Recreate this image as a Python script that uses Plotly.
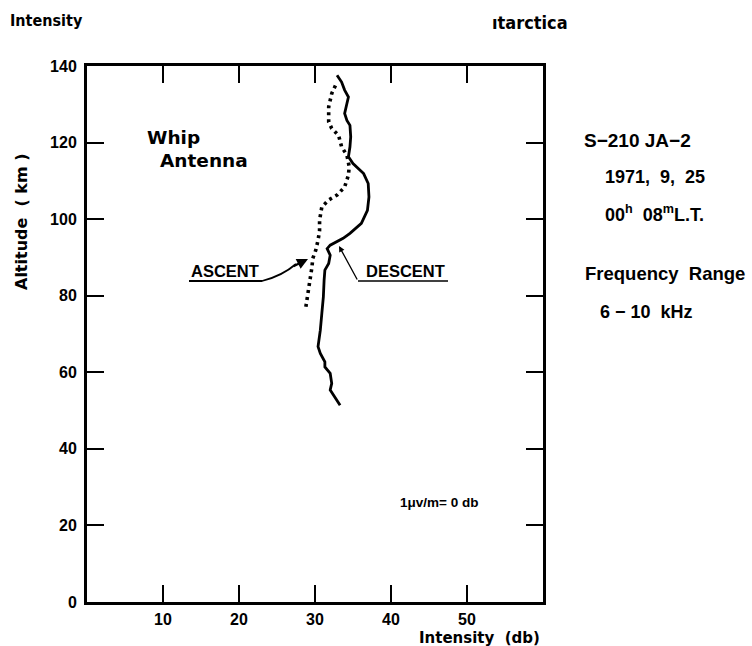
import plotly.graph_objects as go

# ---- data ----
descent_db = [32.9, 33.5, 33.9, 34.4, 34.2, 33.9, 34.2, 34.6, 34.7, 34.6, 34.4, 35.0, 36.4, 37.0,
              37.1, 36.9, 36.1, 34.6, 33.7, 32.0, 31.6, 32.0, 31.8, 31.3, 31.2, 31.1, 30.9, 30.7,
              30.4, 30.7, 31.3, 31.3, 32.0, 32.2, 32.0, 32.9, 33.3]
descent_km = [137.6, 135.8, 133.7, 131.9, 130.2, 127.6, 125.8, 124.5, 121.5, 118.9, 116.3, 114.5,
              111.9, 109.3, 105.8, 102.3, 98.9, 96.3, 95.0, 93.2, 92.3, 90.6, 88.4, 86.7, 84.1,
              79.7, 75.4, 71.0, 66.7, 64.9, 62.7, 61.4, 59.7, 57.1, 55.4, 52.7, 51.4]

ascent_db = [28.8, 29.0, 29.3, 29.4, 29.6, 29.7, 30.1, 30.4, 30.6, 30.6, 30.9, 31.8, 32.9, 33.9,
             34.4, 34.5, 34.2, 33.5, 33.1, 32.2, 31.8, 31.8, 31.8, 32.2, 32.8]
ascent_km = [77.1, 79.7, 82.3, 84.9, 87.5, 89.7, 91.9, 94.5, 97.0, 99.7, 103.2, 105.0, 106.3, 108.4,
             111.5, 113.7, 116.7, 118.9, 121.9, 123.7, 125.4, 127.2, 129.3, 132.8, 135.4]

x_ticks = [10, 20, 30, 40, 50]
x_tick_labels = ["10", "20", "30", "40", "50"]
y_ticks = [0, 20, 40, 60, 80, 100, 120, 140]
y_tick_labels = ["0", "20", "40", "60", "80", "100", "120", "140"]

W, H = 752, 646
ML, MR, MT, MB = 87, 209, 66, 44
PW, PH = W - ML - MR, H - MT - MB


def P(px, py):
    """pixel -> paper coords"""
    return (px - ML) / PW, (H - MB - py) / PH


def D(px, py):
    """pixel -> data coords"""
    return (px - ML) / PW * 60.0, (H - MB - py) / PH * 140.0


fig = go.Figure()
fig.add_trace(go.Scatter(x=descent_db, y=descent_km, mode="lines",
                         line=dict(color="black", width=2.8), hoverinfo="skip"))
fig.add_trace(go.Scatter(x=ascent_db, y=ascent_km, mode="lines",
                         line=dict(color="black", width=3.6, dash="3px,4px"), hoverinfo="skip"))

BOLD = "Liberation Sans"
WIDE = "DejaVu Sans"
NARROW = "Liberation Sans Narrow, DejaVu Sans Condensed, Liberation Sans"

ann = []


def text(t, px, py, size, family=BOLD, xanchor="left", yanchor="middle", angle=0):
    x, y = P(px, py)
    ann.append(dict(text=t, x=x, y=y, xref="paper", yref="paper", showarrow=False,
                    xanchor=xanchor, yanchor=yanchor, textangle=angle,
                    font=dict(family=family, size=size, color="black", weight="bold")))


text("Intensity", 8, 20, 16, NARROW)
text("ıtarctica", 490, 23, 18, NARROW)
text("Whip", 145, 137, 18.5, WIDE)
text("Antenna", 158, 160, 18.5, WIDE)
text("S\u2212210 JA\u22122", 582, 140, 19)
text("1971,  9,  25", 603, 177, 18)
text("00<sup>h</sup>  08<sup>m</sup>L.T.", 603, 213, 18)
text("Frequency  Range", 583, 273, 18.5)
text("6 \u2212 10  kHz", 598, 312, 18)
text("1\u03bcv/m= 0 db", 398, 502, 13.5)
text("ASCENT", 189, 271, 16.5)
text("DESCENT", 364, 271, 16.5)
text("Intensity  (db)", 542, 638, 15, WIDE, xanchor="right")
text("Altitude  ( km )", 22, 222, 16, WIDE, xanchor="center", angle=-90)

# arrowheads
hx, hy = D(308, 259)
ann.append(dict(x=hx, y=hy, xref="x", yref="y", text="", showarrow=True, ax=-16, ay=8,
                arrowhead=2, arrowsize=1.0, arrowwidth=2.2, arrowcolor="black", standoff=0))
dx_, dy_ = D(339, 246)
ann.append(dict(x=dx_, y=dy_, xref="x", yref="y", text="", showarrow=True, ax=19, ay=35,
                arrowhead=2, arrowsize=0.9, arrowwidth=1.3, arrowcolor="black", standoff=0))

# leader lines (shapes)
a0 = D(189, 281); a1 = D(262, 281); ac = D(282, 276); a2 = D(296, 264)
path_a = f"M {a0[0]},{a0[1]} L {a1[0]},{a1[1]} Q {ac[0]},{ac[1]} {a2[0]},{a2[1]}"
d0 = D(448, 281); d1 = D(358, 281)
shapes = [
    dict(type="path", path=path_a, xref="x", yref="y", line=dict(color="black", width=1.8)),
    dict(type="line", x0=d0[0], y0=d0[1], x1=d1[0], y1=d1[1], xref="x", yref="y",
         line=dict(color="black", width=1.6)),
]

fig.update_layout(
    width=W, height=H, margin=dict(l=ML, r=MR, t=MT, b=MB),
    paper_bgcolor="white", plot_bgcolor="white", showlegend=False,
    annotations=ann, shapes=shapes,
    xaxis=dict(range=[0, 60], showgrid=False, zeroline=False, showline=True, linewidth=3,
               linecolor="black", mirror="ticks", ticks="inside", ticklen=17, tickwidth=2,
               tickcolor="black", tickvals=x_ticks, ticktext=x_tick_labels,
               tickfont=dict(family=BOLD, size=16, color="black", weight="bold"),
               ticklabelstandoff=1),
    yaxis=dict(range=[0, 140], showgrid=False, zeroline=False, showline=True, linewidth=3,
               linecolor="black", mirror="ticks", ticks="inside", ticklen=17, tickwidth=2,
               tickcolor="black", tickvals=y_ticks, ticktext=y_tick_labels,
               tickfont=dict(family=BOLD, size=16, color="black", weight="bold"),
               ticklabelstandoff=4),
)

fig.write_html("out.html")
